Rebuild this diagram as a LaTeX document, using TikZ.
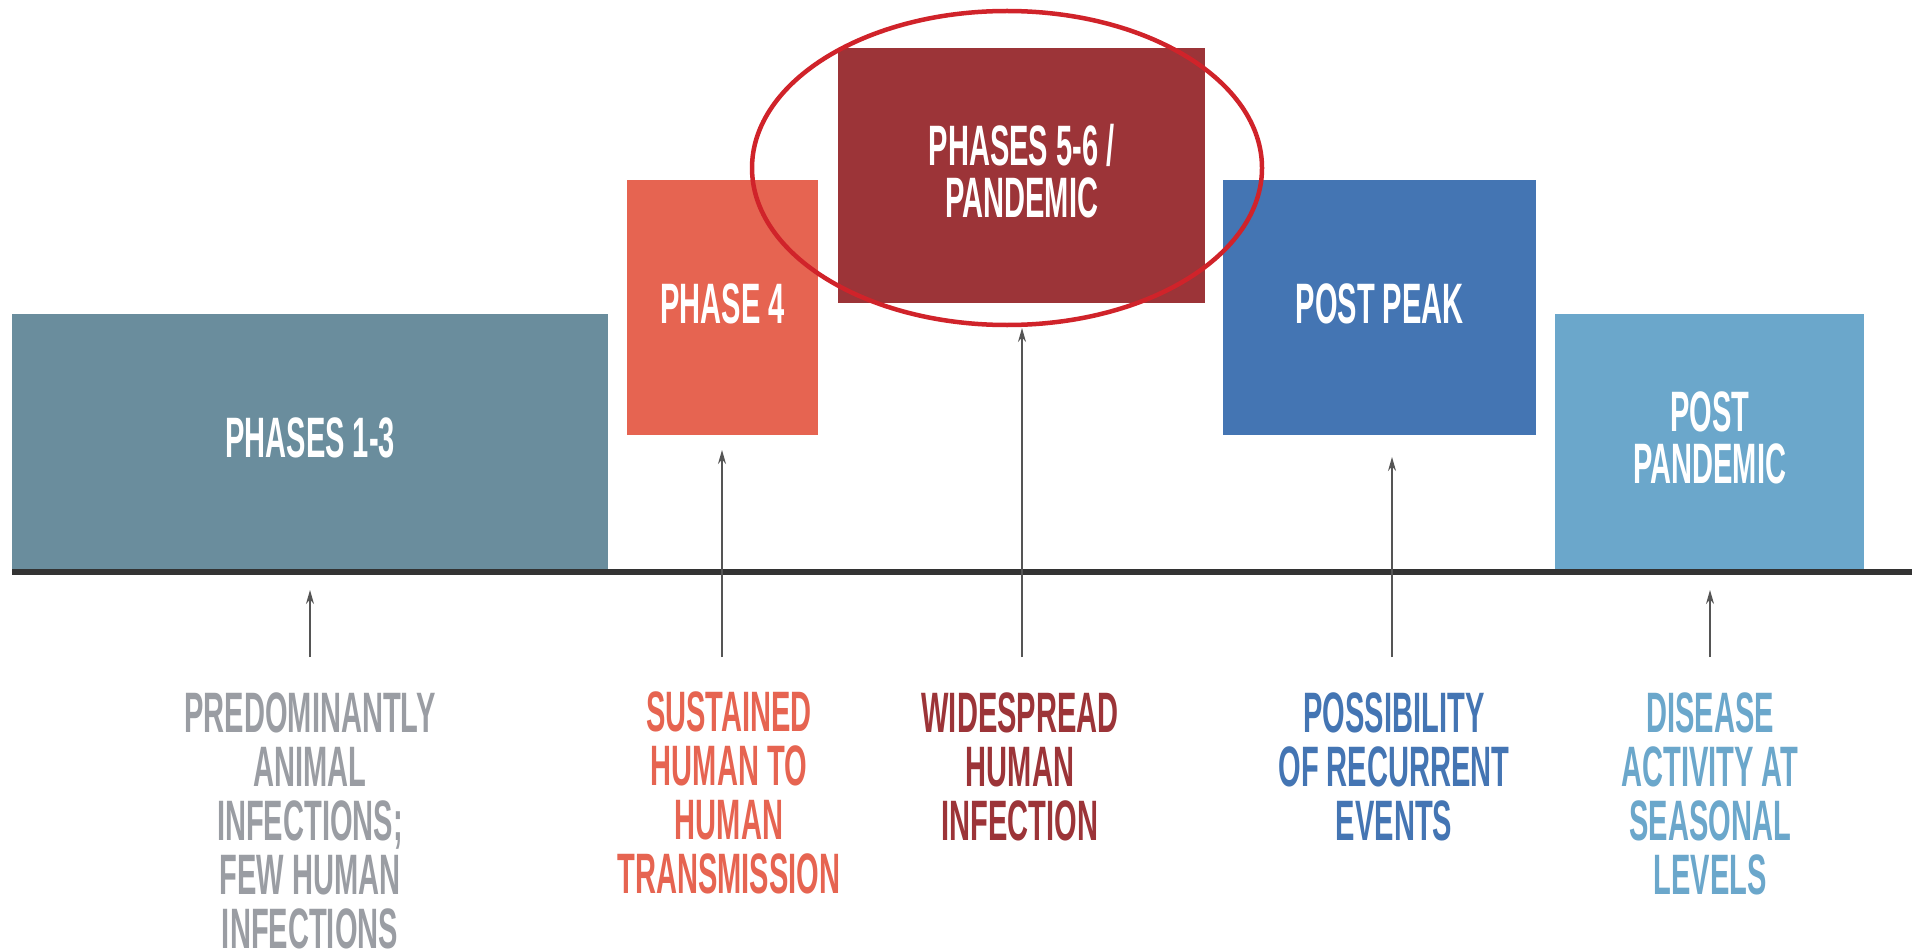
\documentclass[tikz,border=0pt]{standalone}
\usepackage{fontspec}
\newfontfamily\condfont{Liberation Sans}[FakeStretch=0.51]
\usetikzlibrary{arrows.meta,shapes.geometric}
\definecolor{cteal}{HTML}{6A8D9D}
\definecolor{ccoral}{HTML}{E66451}
\definecolor{cdark}{HTML}{9C3438}
\definecolor{cblue}{HTML}{4475B3}
\definecolor{clight}{HTML}{6BA7CB}
\definecolor{cgraytxt}{HTML}{9A9DA3}
\definecolor{caxis}{HTML}{333333}
\definecolor{cring}{HTML}{D0232A}
\definecolor{carrow}{HTML}{555555}
\begin{document}
\begin{tikzpicture}[x=1pt,y=-1pt,
  phasebox/.style={draw=none, inner sep=0pt, anchor=north west, text=white, align=center,
    text depth=9pt, font=\condfont\bfseries\fontsize{57}{52}\selectfont},
  lbl/.style={inner sep=0pt, anchor=north, align=center,
    font=\condfont\bfseries\fontsize{57}{54}\selectfont},
  arr/.style={draw=carrow, line width=1.5pt, -{Stealth[length=14pt,width=8pt]}},
]
\useasboundingbox (0,0) rectangle (1918,952);
\fill[white] (0,0) rectangle (1918,952);

% phase boxes
\node[phasebox, fill=cteal, minimum width=596, minimum height=256] (p13) at (12,314) {PHASES 1-3};
\node[phasebox, fill=ccoral, minimum width=191, minimum height=255] (p4) at (627,180) {PHASE 4};
\node[phasebox, fill=cdark, minimum width=367, minimum height=255] (p56) at (838,48) {PHASES 5-6 /\\PANDEMIC};
\node[phasebox, fill=cblue, minimum width=313, minimum height=255] (pp) at (1223,180) {POST PEAK};
\node[phasebox, fill=clight, minimum width=309, minimum height=256] (ppd) at (1555,314) {POST\\PANDEMIC};

% highlight ring
\node[ellipse, draw=cring, line width=4.5pt, inner sep=0pt, minimum width=510, minimum height=314] (ring) at (1007,168) {};

% time axis
\coordinate (ax1) at (12,572);
\coordinate (ax2) at (1912,572);
\draw[caxis, line width=6pt] (ax1) -- (ax2);

% descriptions
\node[lbl, text=cgraytxt] (l1) at (310,692) {PREDOMINANTLY\\ANIMAL\\INFECTIONS;\\FEW HUMAN\\INFECTIONS};
\node[lbl, text=ccoral] (l2) at (729,691) {SUSTAINED\\HUMAN TO\\HUMAN\\TRANSMISSION};
\node[lbl, text=cdark] (l3) at (1020,692) {WIDESPREAD\\HUMAN\\INFECTION};
\node[lbl, text=cblue] (l4) at (1394,692) {POSSIBILITY\\OF RECURRENT\\EVENTS};
\node[lbl, text=clight] (l5) at (1710,692) {DISEASE\\ACTIVITY AT\\SEASONAL\\LEVELS};

% arrows
\coordinate (s1) at (310,657); \coordinate (e1) at (310,590);
\coordinate (s2) at (722,657); \coordinate (e2) at (722,450);
\coordinate (s3) at (1022,657); \coordinate (e3) at (1022,328);
\coordinate (s4) at (1392,657); \coordinate (e4) at (1392,457);
\coordinate (s5) at (1710,657); \coordinate (e5) at (1710,590);
\draw[arr] (s1) -- (e1);
\draw[arr] (s2) -- (e2);
\draw[arr] (s3) -- (e3);
\draw[arr] (s4) -- (e4);
\draw[arr] (s5) -- (e5);
\end{tikzpicture}
\end{document}
